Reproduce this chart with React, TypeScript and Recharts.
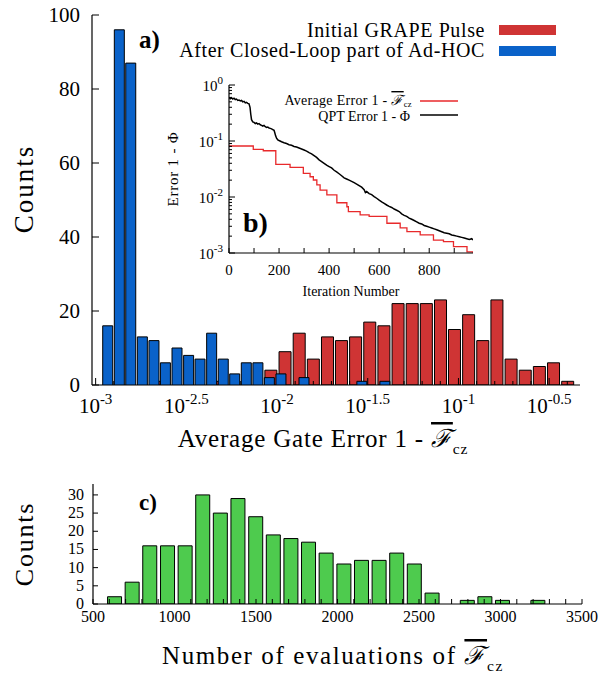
import React from 'react';
import { BarChart, Bar, XAxis, YAxis, LineChart, Line } from 'recharts';

const FONT = "'Liberation Serif', 'DejaVu Serif', 'Times New Roman', serif";
const RED = '#cf3434';
const BLUE = '#0a62c9';
const GREEN = '#4ecb4e';

// ---------- panel a) : histogram of average gate error (log10 bin centres)
const redLogError = [-2.657, -2.346, -2.034, -1.956, -1.878, -1.8, -1.722, -1.645, -1.567, -1.489, -1.411, -1.333, -1.255, -1.177, -1.099, -1.022, -0.944, -0.866, -0.788, -0.71, -0.632, -0.554, -0.476, -0.398];
const redCounts = [1, 1, 4, 9, 14, 7, 13, 12, 13, 17, 16, 22, 22, 22, 23, 15, 19, 12, 23, 7, 4, 5, 6, 1];
const blueLogError = [-2.935, -2.871, -2.808, -2.744, -2.68, -2.617, -2.553, -2.489, -2.426, -2.362, -2.298, -2.235, -2.171, -2.107, -2.044, -1.98, -1.853, -1.534, -1.407];
const blueCounts = [16, 96, 87, 13, 12, 6, 10, 8, 7, 14, 7, 3, 6, 6, 2, 3, 2, 1, 1];
const mainXTicks = [-3, -2.5, -2, -1.5, -1, -0.5];
const mainXTickLabels = ['-3', '-2.5', '-2', '-1.5', '-1', '-0.5'];
const mainXMinor = [-2.9, -2.8, -2.7, -2.6, -2.4, -2.3, -2.2, -2.1, -1.9, -1.8, -1.7, -1.6, -1.4, -1.3, -1.2, -1.1, -0.9, -0.8, -0.7, -0.6, -0.4];
const mainYTicks = [0, 20, 40, 60, 80, 100];
const legendLabels = ['Initial GRAPE Pulse', 'After Closed-Loop part of Ad-HOC'];

// ---------- panel b) : error vs iteration
const qptIter = [0, 5, 10, 15, 20, 25, 30, 35, 40, 45, 50, 55, 60, 65, 70, 75, 80, 84, 87, 90, 95, 100, 105, 110, 115, 120, 125, 130, 135, 140, 145, 150, 155, 160, 165, 170, 175, 180, 183, 186, 190, 195, 200, 210, 220, 230, 240, 250, 260, 270, 280, 290, 300, 310, 320, 330, 340, 350, 360, 370, 380, 390, 400, 410, 420, 430, 440, 450, 460, 470, 480, 490, 500, 510, 520, 530, 540, 545, 550, 560, 570, 580, 590, 600, 610, 620, 630, 640, 650, 660, 670, 680, 690, 700, 710, 720, 730, 740, 750, 760, 770, 780, 790, 800, 810, 820, 830, 840, 850, 860, 870, 880, 890, 900, 910, 920, 930, 940, 950, 960, 970, 975];
const qptErr = [0.6, 0.57, 0.59, 0.56, 0.58, 0.55, 0.56, 0.53, 0.54, 0.52, 0.53, 0.5, 0.51, 0.48, 0.49, 0.47, 0.46, 0.4, 0.3, 0.24, 0.22, 0.215, 0.205, 0.21, 0.2, 0.205, 0.195, 0.19, 0.185, 0.19, 0.18, 0.175, 0.178, 0.17, 0.168, 0.165, 0.16, 0.155, 0.14, 0.125, 0.112, 0.105, 0.102, 0.097, 0.093, 0.09, 0.086, 0.084, 0.08, 0.078, 0.075, 0.072, 0.069, 0.066, 0.062, 0.059, 0.055, 0.051, 0.046, 0.043, 0.04, 0.037, 0.035, 0.033, 0.03, 0.028, 0.026, 0.024, 0.022, 0.021, 0.02, 0.019, 0.018, 0.017, 0.016, 0.015, 0.0135, 0.012, 0.0125, 0.0115, 0.011, 0.0102, 0.0095, 0.0088, 0.0082, 0.0077, 0.0072, 0.0068, 0.0065, 0.0061, 0.0058, 0.0055, 0.005, 0.0047, 0.0045, 0.0042, 0.004, 0.0038, 0.0036, 0.0034, 0.0033, 0.0031, 0.003, 0.0029, 0.0028, 0.0027, 0.0026, 0.0025, 0.0024, 0.0023, 0.00225, 0.0022, 0.0021, 0.00205, 0.002, 0.00195, 0.0019, 0.00185, 0.0018, 0.00175, 0.0018, 0.0017];
const avgIter = [0, 97, 137, 187, 244, 297, 324, 337, 351, 364, 391, 431, 471, 477, 524, 560, 631, 684, 711, 764, 817, 857, 897, 951, 975];
const avgErr = [0.0814, 0.071, 0.067, 0.0383, 0.0339, 0.0265, 0.023, 0.0201, 0.0165, 0.0133, 0.0109, 0.0079, 0.0067, 0.0055, 0.0048, 0.0045, 0.0034, 0.0028, 0.0024, 0.0021, 0.0017, 0.0016, 0.0013, 0.00105, 0.001];
const insetYMajor = [0.001, 0.01, 0.1, 1];
const insetYMajorLabels = ['-3', '-2', '-1', '0'];
const insetYMinor = [0.002, 0.003, 0.004, 0.005, 0.006, 0.007, 0.008, 0.009, 0.02, 0.03, 0.04, 0.05, 0.06, 0.07, 0.08, 0.09, 0.2, 0.3, 0.4, 0.5, 0.6, 0.7, 0.8, 0.9];
const insetXTicks = [0, 100, 200, 300, 400, 500, 600, 700, 800, 900];
const insetXLabels = [0, 200, 400, 600, 800];
const insetLegend = ['Average Error 1 - ', 'QPT Error 1 - Φ'];

// ---------- panel c) : number of evaluations
const evalBins = [631, 739, 847, 956, 1064, 1172, 1280, 1388, 1497, 1605, 1713, 1821, 1929, 2038, 2146, 2254, 2362, 2470, 2579, 2795, 2903, 3011, 3228];
const evalCounts = [2, 6, 16, 16, 16, 30, 25, 29, 24, 19, 18, 17, 14, 11, 12, 12, 14, 11, 3, 1, 2, 1, 1];
const evalXTicks = [500, 600, 700, 800, 900, 1000, 1100, 1200, 1300, 1400, 1500, 1600, 1700, 1800, 1900, 2000, 2100, 2200, 2300, 2400, 2500, 2600, 2700, 2800, 2900, 3000, 3100, 3200, 3300, 3400, 3500];
const evalXLabels = [500, 1000, 1500, 2000, 2500, 3000, 3500];
const evalYTicks = [0, 5, 10, 15, 20, 25, 30];

const redData = redLogError.map((x, i) => ({ x, n: redCounts[i] }));
const blueData = blueLogError.map((x, i) => ({ x, n: blueCounts[i] }));
const evalData = evalBins.map((x, i) => ({ x, n: evalCounts[i] }));
const qptData = qptIter.map((it, i) => ({ it, v: qptErr[i] }));
const avgData = avgIter.map((it, i) => ({ it, v: avgErr[i] }));

const MAIN_X_DOMAIN: [number, number] = [-3.02, -0.33];
const TS: React.CSSProperties = { fontFamily: FONT };

type Side = 'bottom' | 'top' | 'left' | 'right';
function tickMark(side: Side, x: number, y: number, len: number) {
  const d = side === 'bottom' ? [0, -len] : side === 'top' ? [0, len] : side === 'left' ? [len, 0] : [-len, 0];
  return <line x1={x} y1={y} x2={x + d[0]} y2={y + d[1]} stroke="#000" strokeWidth={1} />;
}

const mirrorTick = (side: Side, len: number) => (p: any) => <g>{tickMark(side, p.x, p.y, len)}</g>;

const MainXTick = (p: any) => {
  const i = mainXTicks.indexOf(p.payload.value);
  return (
    <g>
      {tickMark('bottom', p.x, p.y, i >= 0 ? 7 : 4)}
      {i >= 0 && (
        <text x={p.x} y={p.y + 28} textAnchor="middle" style={TS} fontSize={21} fill="#000">
          10<tspan dy={-9} fontSize={15}>{mainXTickLabels[i]}</tspan>
        </text>
      )}
    </g>
  );
};
const MainXTopTick = (p: any) => {
  const i = mainXTicks.indexOf(p.payload.value);
  return <g>{tickMark('top', p.x, p.y, i >= 0 ? 7 : 4)}</g>;
};
const MainYTick = (p: any) => (
  <g>
    {tickMark('left', p.x, p.y, 7)}
    <text x={p.x - 12} y={p.y + 7} textAnchor="end" style={TS} fontSize={21} fill="#000">{p.payload.value}</text>
  </g>
);

const InsetYTick = (p: any) => {
  const i = insetYMajor.indexOf(p.payload.value);
  return (
    <g>
      {tickMark('left', p.x, p.y, i >= 0 ? 6 : 3)}
      {i >= 0 && (
        <text x={p.x - 6} y={p.y + 6} textAnchor="end" style={TS} fontSize={15} fill="#000">
          10<tspan dy={-7} fontSize={11}>{insetYMajorLabels[i]}</tspan>
        </text>
      )}
    </g>
  );
};
const InsetYRightTick = (p: any) => {
  const i = insetYMajor.indexOf(p.payload.value);
  return <g>{tickMark('right', p.x, p.y, i >= 0 ? 6 : 3)}</g>;
};
const InsetXTick = (p: any) => {
  const lab = insetXLabels.indexOf(p.payload.value) >= 0;
  return (
    <g>
      {tickMark('bottom', p.x, p.y, 5)}
      {lab && (
        <text x={p.x} y={p.y + 22} textAnchor="middle" style={TS} fontSize={15} fill="#000">{p.payload.value}</text>
      )}
    </g>
  );
};

const EvalXTick = (p: any) => {
  const lab = evalXLabels.indexOf(p.payload.value) >= 0;
  return (
    <g>
      {tickMark('bottom', p.x, p.y, 5)}
      {lab && (
        <text x={p.x} y={p.y + 18} textAnchor="middle" style={TS} fontSize={16} fill="#000">{p.payload.value}</text>
      )}
    </g>
  );
};
const EvalYTick = (p: any) => (
  <g>
    {tickMark('left', p.x, p.y, 5)}
    <text x={p.x - 9} y={p.y + 5} textAnchor="end" style={TS} fontSize={16} fill="#000">{p.payload.value}</text>
  </g>
);

const axisLine = { stroke: '#000', strokeWidth: 1.2 };

// calligraphic F with overline and "cz" subscript, as tspans inside a text
const fcz = (size: number, sub = 0.28) => [
  <tspan key="f" fontStyle="italic" style={{ textDecoration: 'overline', fontFamily: "'DejaVu Serif', serif" }}>ℱ</tspan>,
  <tspan key="cz" dy={size * sub} fontSize={size * 0.62}>cz</tspan>,
];

const MAIN_MARGIN = { top: 15, right: 36, bottom: 40, left: 32 };

export default function App() {
  const allMainX = [...mainXTicks, ...mainXMinor];
  return (
    <div style={{ position: 'absolute', left: 0, top: 0, width: 616, height: 673, background: '#fff', fontFamily: FONT }}>
      {/* panel a: red histogram + frame */}
      <div style={{ position: 'absolute', left: 0, top: 0 }}>
        <BarChart width={616} height={460} data={redData} margin={MAIN_MARGIN}>
          <XAxis xAxisId="b" dataKey="x" type="number" domain={MAIN_X_DOMAIN} allowDataOverflow ticks={allMainX} interval={0} height={35} tickSize={0} tickMargin={0} tickLine={false} axisLine={axisLine} tick={MainXTick} />
          <XAxis xAxisId="t" orientation="top" type="number" domain={MAIN_X_DOMAIN} allowDataOverflow ticks={allMainX} interval={0} height={0} tickSize={0} tickMargin={0} tickLine={false} axisLine={axisLine} tick={MainXTopTick} />
          <YAxis yAxisId="l" type="number" domain={[0, 100]} allowDataOverflow ticks={mainYTicks} interval={0} width={60} tickSize={0} tickMargin={0} tickLine={false} axisLine={axisLine} tick={MainYTick} />
          <YAxis yAxisId="r" orientation="right" type="number" domain={[0, 100]} allowDataOverflow ticks={mainYTicks} interval={0} width={0} tickSize={0} tickMargin={0} tickLine={false} axisLine={axisLine} tick={mirrorTick('right', 7)} />
          <Bar xAxisId="b" yAxisId="l" dataKey="n" fill={RED} stroke="#000" strokeWidth={1} barSize={12} isAnimationActive={false} />
          <text x={139} y={48} style={TS} fontSize={25} fontWeight="bold" fill="#000">a)</text>
          {legendLabels.map((lab, i) => (
            <g key={lab}>
              <text x={485} y={37 + i * 20} textAnchor="end" style={{ ...TS, letterSpacing: 0.6 }} fontSize={20} fill="#000">{lab}</text>
              <rect x={499} y={25 + i * 21} width={57} height={10} fill={i === 0 ? RED : BLUE} />
            </g>
          ))}
          <text x={33} y={189} transform="rotate(-90 33 189)" textAnchor="middle" style={{ ...TS, letterSpacing: 2 }} fontSize={27} fill="#000">Counts</text>
          <text x={323} y={447} textAnchor="middle" style={{ ...TS, letterSpacing: 0.8 }} fontSize={25} fill="#000">Average Gate Error 1 - {fcz(25)}</text>
        </BarChart>
      </div>
      {/* panel a: blue histogram overlay */}
      <div style={{ position: 'absolute', left: 0, top: 0 }}>
        <BarChart width={616} height={460} data={blueData} margin={MAIN_MARGIN}>
          <XAxis xAxisId="b" dataKey="x" type="number" domain={MAIN_X_DOMAIN} allowDataOverflow height={35} tick={false} tickLine={false} axisLine={false} />
          <XAxis xAxisId="t" orientation="top" type="number" domain={MAIN_X_DOMAIN} allowDataOverflow height={0} tick={false} tickLine={false} axisLine={false} />
          <YAxis yAxisId="l" type="number" domain={[0, 100]} allowDataOverflow width={60} tick={false} tickLine={false} axisLine={false} />
          <YAxis yAxisId="r" orientation="right" type="number" domain={[0, 100]} allowDataOverflow width={0} tick={false} tickLine={false} axisLine={false} />
          <Bar xAxisId="b" yAxisId="l" dataKey="n" fill={BLUE} stroke="#000" strokeWidth={1} barSize={10} isAnimationActive={false} />
        </BarChart>
      </div>
      {/* panel b: inset */}
      <div style={{ position: 'absolute', left: 150, top: 75 }}>
        <LineChart width={340} height={230} margin={{ top: 10, right: 17, bottom: 22, left: 34 }}>
          <XAxis xAxisId="b" dataKey="it" type="number" domain={[0, 975]} allowDataOverflow ticks={insetXTicks} interval={0} height={30} tickSize={0} tickMargin={0} tickLine={false} axisLine={axisLine} tick={InsetXTick} />
          <XAxis xAxisId="t" orientation="top" type="number" domain={[0, 975]} allowDataOverflow ticks={insetXTicks} interval={0} height={0} tickSize={0} tickMargin={0} tickLine={false} axisLine={axisLine} tick={mirrorTick('top', 5)} />
          <YAxis yAxisId="l" dataKey="v" type="number" scale="log" domain={[0.001, 1]} allowDataOverflow ticks={[...insetYMajor, ...insetYMinor]} interval={0} width={45} tickSize={0} tickMargin={0} tickLine={false} axisLine={axisLine} tick={InsetYTick} />
          <YAxis yAxisId="r" orientation="right" type="number" scale="log" domain={[0.001, 1]} allowDataOverflow ticks={[...insetYMajor, ...insetYMinor]} interval={0} width={0} tickSize={0} tickMargin={0} tickLine={false} axisLine={axisLine} tick={InsetYRightTick} />
          <Line xAxisId="b" yAxisId="l" data={avgData} dataKey="v" type="stepAfter" stroke="#e8292b" strokeWidth={1.3} dot={false} isAnimationActive={false} />
          <Line xAxisId="b" yAxisId="l" data={qptData} dataKey="v" type="linear" stroke="#000" strokeWidth={1.5} dot={false} isAnimationActive={false} />
          <text x={93} y={157} style={TS} fontSize={28} fontWeight="bold" fill="#000">b)</text>
          <text x={28} y={94} transform="rotate(-90 28 94)" textAnchor="middle" style={{ ...TS, letterSpacing: 0.8 }} fontSize={15} fill="#000">Error 1 - Φ</text>
          <text x={201} y={221} textAnchor="middle" style={TS} fontSize={14} fill="#000">Iteration Number</text>
          <text x={262} y={30} textAnchor="end" style={{ ...TS, letterSpacing: 0.3 }} fontSize={14} fill="#000">{insetLegend[0]}{fcz(14, 0.15)}</text>
          <line x1={270} x2={308} y1={26} y2={26} stroke="#e8292b" strokeWidth={1.5} />
          <text x={260} y={45.5} textAnchor="end" style={TS} fontSize={14} fill="#000">{insetLegend[1]}</text>
          <line x1={270} x2={308} y1={40} y2={40} stroke="#000" strokeWidth={1.5} />
        </LineChart>
      </div>
      {/* panel c */}
      <div style={{ position: 'absolute', left: 0, top: 470 }}>
        <BarChart width={616} height={203} data={evalData} margin={{ top: 14, right: 34, bottom: 39, left: 33 }}>
          <XAxis xAxisId="b" dataKey="x" type="number" domain={[500, 3500]} allowDataOverflow ticks={evalXTicks} interval={0} height={30} tickSize={0} tickMargin={0} tickLine={false} axisLine={axisLine} tick={EvalXTick} />
          <XAxis xAxisId="t" orientation="top" type="number" domain={[500, 3500]} allowDataOverflow ticks={evalXTicks} interval={0} height={0} tickSize={0} tickMargin={0} tickLine={false} axisLine={axisLine} tick={mirrorTick('top', 5)} />
          <YAxis yAxisId="l" type="number" domain={[0, 33]} allowDataOverflow ticks={evalYTicks} interval={0} width={60} tickSize={0} tickMargin={0} tickLine={false} axisLine={axisLine} tick={EvalYTick} />
          <YAxis yAxisId="r" orientation="right" type="number" domain={[0, 33]} allowDataOverflow ticks={evalYTicks} interval={0} width={0} tickSize={0} tickMargin={0} tickLine={false} axisLine={axisLine} tick={mirrorTick('right', 5)} />
          <Bar xAxisId="b" yAxisId="l" dataKey="n" fill={GREEN} stroke="#000" strokeWidth={1} barSize={14} isAnimationActive={false} />
          <text x={139} y={40} style={TS} fontSize={23} fontWeight="bold" fill="#000">c)</text>
          <text x={33} y={74} transform="rotate(-90 33 74)" textAnchor="middle" style={{ ...TS, letterSpacing: 1.8 }} fontSize={26} fill="#000">Counts</text>
          <text x={333} y={194} textAnchor="middle" style={{ ...TS, letterSpacing: 1.6 }} fontSize={25} fill="#000">Number of evaluations of {fcz(25)}</text>
        </BarChart>
      </div>
    </div>
  );
}
